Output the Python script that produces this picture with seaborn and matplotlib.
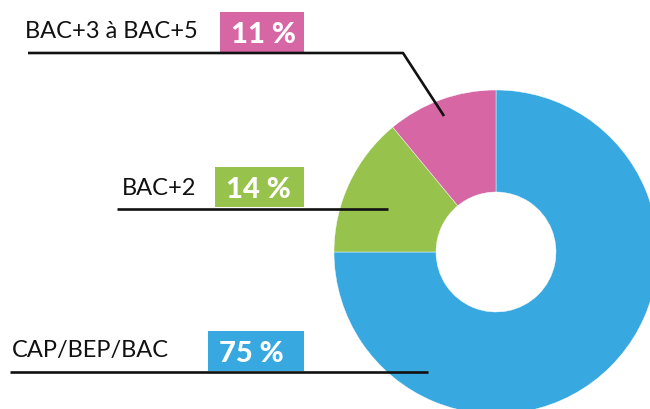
import matplotlib
matplotlib.use("Agg")
import matplotlib.pyplot as plt
import matplotlib.patches as mpatches
import seaborn as sns

# data
categories = ["CAP/BEP/BAC", "BAC+2", "BAC+3 à BAC+5"]
values = [75, 14, 11]
colors = ["#38A9E0", "#97C24C", "#D766A4"]

W, H = 650, 409
sns.set_theme(style="white")
plt.rcParams["font.family"] = ["Lato", "DejaVu Sans"]

fig = plt.figure(figsize=(W / 100, H / 100), dpi=100)
ax = fig.add_axes([0, 0, 1, 1])

# donut (pixel coords, y measured from top then flipped)
cx, cy, r_out, r_in = 496, 252, 162, 60
ax.pie(values, colors=colors, startangle=90, counterclock=False,
       center=(cx, H - cy), radius=r_out,
       wedgeprops=dict(width=r_out - r_in, edgecolor="white", linewidth=0.3))
ax.set_xlim(0, W)
ax.set_ylim(0, H)
ax.set_aspect("equal")
ax.axis("off")

# label layout: text position, box, underline start, leader points
layout = {
    "BAC+3 à BAC+5": dict(tx=25, ty=38, box=(220, 12, 304, 52), lx=28, ly=53,
                          leader=[(403, 53), (444, 116)]),
    "BAC+2": dict(tx=122, ty=195, box=(215, 167, 304, 207), lx=117, ly=209,
                  leader=[(388, 209)]),
    "CAP/BEP/BAC": dict(tx=12, ty=357, box=(208, 331, 304, 371), lx=10, ly=372,
                        leader=[(428, 372)]),
}

for cat, val, col in zip(categories, values, colors):
    L = layout[cat]
    x0, y0, x1, y1 = L["box"]
    ax.add_patch(mpatches.Rectangle((x0, H - y1), x1 - x0, y1 - y0,
                                    facecolor=col, edgecolor="none", zorder=3))
    ax.text(x0 + 11, H - (y1 - 9), f"{val} %", color="white", fontsize=21,
            fontweight="black", ha="left", va="baseline", zorder=4)
    ax.text(L["tx"], H - L["ty"], cat, color="#111111", fontsize=17,
            fontweight="normal", ha="left", va="baseline", zorder=4)
    pts = [(L["lx"], L["ly"])] + L["leader"]
    ax.plot([p[0] for p in pts], [H - p[1] for p in pts], color="#111111",
            lw=1.9, solid_capstyle="butt", zorder=5)

fig.savefig("out.png", dpi=100)
